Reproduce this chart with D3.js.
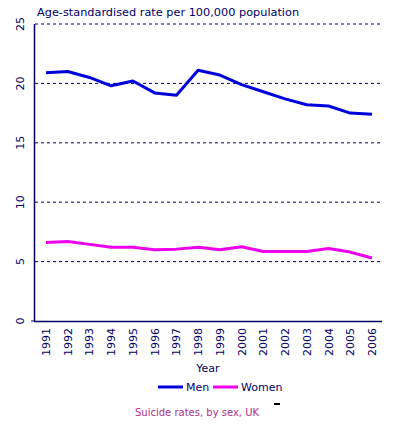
<!DOCTYPE html>
<html>
<head>
<meta charset="utf-8">
<script src="https://cdn.jsdelivr.net/npm/d3@7"></script>
<style>
  body { margin: 0; background: #fff; }
  svg text { font-family: "DejaVu Sans", Verdana, sans-serif; }
</style>
</head>
<body>
<svg id="chart" width="399" height="427"></svg>
<script>
// data
const years = [1991, 1992, 1993, 1994, 1995, 1996, 1997, 1998, 1999, 2000, 2001, 2002, 2003, 2004, 2005, 2006];
const men = [20.9, 21.0, 20.5, 19.8, 20.2, 19.2, 19.0, 21.1, 20.7, 19.9, 19.3, 18.7, 18.2, 18.1, 17.5, 17.4];
const women = [6.6, 6.7, 6.45, 6.2, 6.2, 6.0, 6.05, 6.2, 6.0, 6.25, 5.85, 5.85, 5.85, 6.1, 5.8, 5.3];
const yTicks = [0, 5, 10, 15, 20, 25];

const navy = "#000066";
const svg = d3.select("#chart");

const x = d3.scaleLinear().domain([1991, 2006]).range([46, 372]);
const y = d3.scaleLinear().domain([0, 25]).range([321, 24]);

// grid lines
svg.append("g")
  .selectAll("line")
  .data(yTicks.filter(d => d > 0))
  .join("line")
    .attr("x1", 35).attr("x2", 380)
    .attr("y1", d => y(d)).attr("y2", d => y(d))
    .attr("stroke", navy)
    .attr("stroke-width", 1)
    .attr("stroke-dasharray", "3,3");

// y axis
svg.append("line")
  .attr("x1", 34.5).attr("x2", 34.5)
  .attr("y1", y(25)).attr("y2", y(0))
  .attr("stroke", navy).attr("stroke-width", 1.5);
svg.append("line")
  .attr("x1", 31).attr("x2", 34)
  .attr("y1", y(0)).attr("y2", y(0))
  .attr("stroke", navy).attr("stroke-width", 1);
svg.append("g")
  .selectAll("text")
  .data(yTicks)
  .join("text")
    .attr("transform", d => `translate(24,${y(d)}) rotate(-90)`)
    .attr("text-anchor", "middle")
    .attr("font-size", 11)
    .attr("fill", navy)
    .text(d => d);

// x axis
svg.append("line")
  .attr("x1", 34).attr("x2", 382)
  .attr("y1", 321.5).attr("y2", 321.5)
  .attr("stroke", navy).attr("stroke-width", 1.5);
svg.append("g")
  .selectAll("text")
  .data(years)
  .join("text")
    .attr("transform", d => `translate(${x(d) + 4},328) rotate(-90)`)
    .attr("text-anchor", "end")
    .attr("font-size", 11)
    .attr("fill", navy)
    .text(d => d);

svg.append("text")
  .attr("x", 208).attr("y", 372)
  .attr("text-anchor", "middle")
  .attr("font-size", 11)
  .attr("fill", navy)
  .text("Year");

svg.append("text")
  .attr("x", 37).attr("y", 16)
  .attr("font-size", 11.3)
  .attr("fill", navy)
  .text("Age-standardised rate per 100,000 population");

// series
const line = d3.line()
  .x((d, i) => x(years[i]))
  .y(d => y(d));

svg.append("path")
  .datum(women)
  .attr("fill", "none")
  .attr("stroke", "#ee00ee")
  .attr("stroke-width", 3)
  .attr("stroke-linejoin", "round")
  .attr("d", line);

svg.append("path")
  .datum(men)
  .attr("fill", "none")
  .attr("stroke", "#0000dd")
  .attr("stroke-width", 3)
  .attr("stroke-linejoin", "round")
  .attr("d", line);

// legend
const legend = [
  { name: "Men", color: "#0000dd", x: 158 },
  { name: "Women", color: "#ee00ee", x: 213 }
];
const lg = svg.append("g").selectAll("g").data(legend).join("g");
lg.append("line")
  .attr("x1", d => d.x).attr("x2", d => d.x + 25)
  .attr("y1", 387).attr("y2", 387)
  .attr("stroke", d => d.color).attr("stroke-width", 3);
lg.append("text")
  .attr("x", d => d.x + 28).attr("y", 391)
  .attr("font-size", 11)
  .attr("fill", navy)
  .text(d => d.name);

svg.append("text")
  .attr("x", 135).attr("y", 416)
  .attr("font-size", 10)
  .attr("fill", "#b0308a")
  .text("Suicide rates, by sex, UK");

svg.append("rect")
  .attr("x", 274).attr("y", 403)
  .attr("width", 6).attr("height", 2)
  .attr("fill", "#000");
</script>
</body>
</html>
